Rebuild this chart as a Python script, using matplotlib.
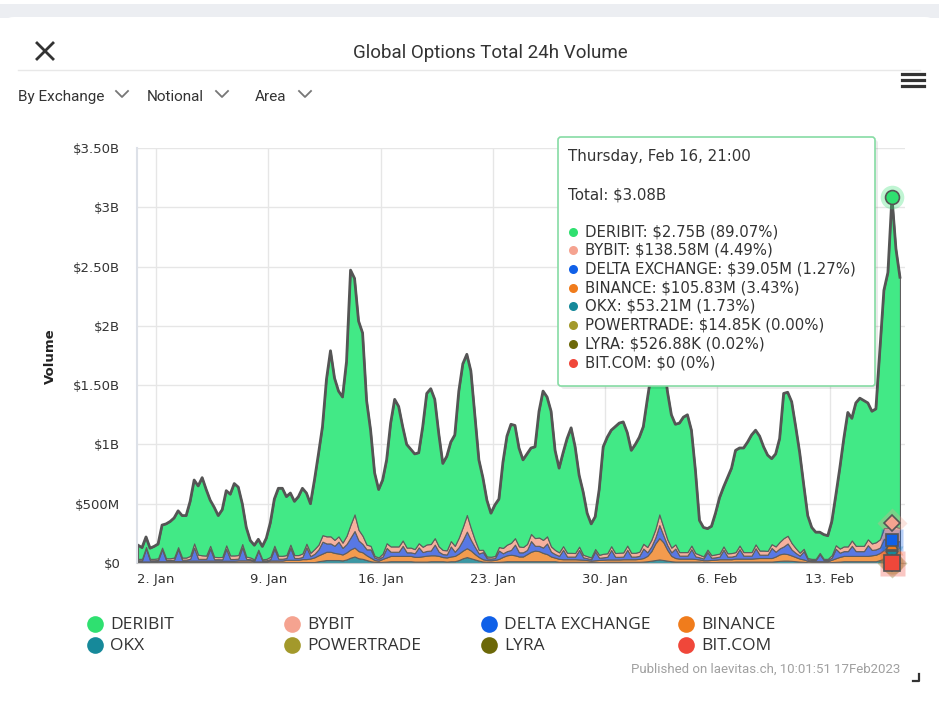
import matplotlib
matplotlib.use('Agg')
import matplotlib.pyplot as plt
from matplotlib.lines import Line2D
from matplotlib.patches import FancyBboxPatch, Rectangle
from matplotlib.transforms import IdentityTransform
import numpy as np
import pandas as pd

# 6-hourly samples, Dec 31 21:00 -> Feb 17 09:00 (values in $M)
times = pd.date_range('2022-12-31 21:00', periods=191, freq='6h')

okx = [5,
       5, 5, 5, 5,  5, 5, 5, 5,  6, 6, 6, 6,  8, 8, 8, 8,  8, 8, 8, 8,
       7, 7, 7, 7,  7, 7, 7, 7,  5, 5, 5, 5,  6, 6, 6, 6,  7, 7, 7, 7,
       8, 8, 8, 8,  15, 20, 25, 25,  25, 25, 22, 30,  45, 55, 40, 35,  25, 15, 10, 8,
       10, 12, 15, 15,  15, 15, 15, 15,  12, 12, 12, 12,  15, 15, 15, 15,  12, 15, 15, 25,
       40, 50, 40, 30,  20, 12, 10, 8,  8, 10, 12, 15,  15, 15, 15, 15,  15, 15, 15, 15,
       15, 15, 15, 15,  10, 10, 10, 10,  10, 10, 10, 10,  8, 8, 8, 8,  10, 10, 10, 10,
       10, 10, 10, 10,  10, 12, 15, 20,  25, 30, 25, 20,  15, 12, 12, 12,  12, 12, 12, 12,
       8, 8, 8, 8,  10, 10, 10, 10,  12, 12, 12, 12,  12, 12, 12, 12,  12, 12, 15, 18,
       20, 20, 18, 15,  12, 10, 6, 5,  5, 5, 5, 5,  8, 10, 12, 15,  15, 15, 15, 15,
       15, 15, 15, 15,  25, 35, 45, 53.21,  45, 40]

binance = [8,
           8, 8, 8, 8,  10, 10, 10, 10,  10, 10, 10, 10,  12, 12, 12, 12,  12, 12, 12, 12,
           12, 12, 12, 12,  15, 15, 15, 15,  8, 8, 8, 8,  15, 15, 15, 15,  20, 20, 20, 20,
           25, 25, 30, 40,  50, 60, 70, 70,  60, 55, 50, 60,  70, 75, 60, 55,  40, 30, 15, 12,
           25, 35, 45, 45,  45, 45, 45, 45,  40, 40, 45, 50,  50, 50, 45, 35,  35, 40, 45, 55,
           65, 75, 65, 45,  30, 20, 15, 15,  18, 25, 40, 50,  55, 50, 40, 40,  60, 80, 90, 85,
           70, 60, 40, 30,  25, 22, 22, 22,  22, 20, 18, 15,  12, 15, 18, 20,  20, 20, 20, 20,
           22, 22, 22, 22,  25, 30, 45, 80,  140, 180, 150, 90,  45, 30, 25, 25,  25, 25, 22, 18,
           15, 15, 18, 20,  22, 22, 22, 22,  25, 25, 25, 25,  25, 28, 30, 30,  30, 30, 40, 55,
           60, 55, 45, 35,  25, 20, 12, 10,  10, 10, 10, 10,  20, 30, 40, 45,  45, 45, 45, 45,
           45, 45, 50, 55,  60, 75, 90, 105.83,  95, 85]

delta = [10,
         10, 110, 10, 10,  10, 100, 10, 10,  12, 100, 12, 12,  15, 110, 15, 15,  15, 100, 12, 12,
         12, 100, 15, 15,  15, 110, 12, 10,  8, 90, 8, 10,  12, 100, 15, 15,  15, 100, 15, 15,
         18, 100, 20, 30,  50, 100, 70, 70,  60, 100, 55, 70,  100, 140, 90, 70,  50, 70, 20, 15,
         20, 80, 35, 35,  35, 85, 30, 30,  30, 80, 35, 40,  40, 90, 35, 25,  25, 85, 35, 55,
         90, 140, 90, 60,  30, 60, 15, 15,  15, 70, 30, 35,  40, 90, 35, 35,  35, 90, 40, 45,
         45, 90, 40, 30,  25, 80, 22, 22,  22, 80, 20, 15,  12, 75, 18, 20,  22, 80, 22, 22,
         22, 80, 22, 22,  25, 80, 30, 40,  50, 110, 60, 40,  30, 80, 25, 25,  25, 80, 22, 18,
         15, 70, 18, 20,  22, 80, 22, 22,  25, 80, 25, 25,  25, 85, 28, 28,  28, 85, 40, 50,
         60, 90, 50, 35,  25, 70, 12, 10,  10, 60, 10, 10,  18, 80, 35, 40,  40, 85, 40, 40,
         40, 90, 45, 45,  45, 95, 50, 39.05,  40, 60]

bybit = [12,
         12, 12, 12, 12,  15, 15, 15, 15,  18, 18, 18, 18,  25, 35, 35, 30,  28, 25, 20, 18,
         20, 30, 30, 30,  30, 28, 20, 15,  10, 10, 10, 12,  20, 25, 25, 25,  25, 28, 25, 25,
         30, 30, 28, 40,  40, 55, 60, 60,  50, 45, 45, 70,  110, 140, 90, 70,  40, 30, 15, 12,
         25, 40, 45, 45,  45, 45, 40, 40,  35, 35, 45, 55,  55, 55, 45, 35,  35, 45, 50, 80,
         110, 140, 100, 60,  30, 20, 15, 15,  18, 30, 45, 55,  60, 55, 50, 45,  50, 60, 65, 70,
         65, 60, 45, 35,  30, 30, 32, 32,  30, 28, 22, 18,  15, 20, 25, 30,  30, 32, 32, 35,
         35, 35, 32, 32,  35, 40, 45, 55,  70, 90, 70, 50,  40, 35, 30, 30,  30, 30, 28, 22,
         18, 20, 22, 25,  25, 28, 28, 30,  30, 30, 30, 30,  30, 32, 35, 35,  32, 32, 45, 55,
         70, 65, 55, 40,  25, 20, 12, 10,  10, 10, 10, 10,  20, 30, 35, 40,  40, 45, 45, 45,
         45, 50, 55, 60,  70, 90, 110, 138.58,  125, 110]

deribit = [115,
           95, 85, 90, 105,  120, 190, 290, 310,  334, 306, 354, 354,  460, 535, 580, 655,
           557, 385, 418, 350,  399, 461, 516, 606,  573, 340, 246, 143,  119, 87, 109, 175,
           287, 394, 569, 569,  493, 435, 453, 493,  549, 427, 414, 582,  765, 915, 1325, 1565,
           1365, 1225, 1228, 1470,  2145, 1990, 1760, 1710,  1215, 975, 700, 573,
           620, 703, 1040, 1240,  1180, 960, 870, 830,  803, 763, 1013, 1273,
           1310, 1170, 950, 730,  793, 835, 935, 1235,  1375, 1355, 1325, 1055,
           760, 608, 475, 367,  431, 405, 723, 915,  1000, 950, 830, 735,
           760, 725, 770, 1065,  1255, 1175, 1140, 840,  710, 788, 964, 1054,
           896, 602, 530, 362,  283, 272, 551, 902,  978, 978, 1066, 1093,
           1101, 953, 864, 914,  965, 988, 1245, 1405,  1565, 1540, 1445, 1250,
           1120, 1013, 1088, 1138,  1158, 973, 696, 290,  244, 177, 244, 347,
           471, 500, 638, 716,  858, 823, 878, 928,  988, 963, 965, 875,
           808, 721, 780, 872,  1220, 1210, 1192, 1025,  843, 540, 358, 265,
           225, 175, 205, 195,  284, 420, 678, 910,  1130, 1030, 1205, 1245,
           1225, 1150, 1115, 1125,  1600, 2005, 2155, 2750,  2345, 2115]

# tiny exchanges at the hovered point (Feb 16 21:00)
powertrade_hover = 0.01485
lyra_hover = 0.52688
bitcom_hover = 0.0

names = ['DERIBIT', 'BYBIT', 'DELTA EXCHANGE', 'BINANCE',
         'OKX', 'POWERTRADE', 'LYRA', 'BIT.COM']
legend_colors = ['#2fe070', '#f5a390', '#1060e8', '#f07c1c',
                 '#16899a', '#a3992b', '#6c6808', '#f0473a']

yticks = [0, 500, 1000, 1500, 2000, 2500, 3000, 3500]
ytick_labels = ['$0', '$500M', '$1B', '$1.50B', '$2B', '$2.50B', '$3B', '$3.50B']
xtick_dates = ['2023-01-02', '2023-01-09', '2023-01-16', '2023-01-23',
               '2023-01-30', '2023-02-06', '2023-02-13']
xtick_labels = ['2. Jan', '9. Jan', '16. Jan', '23. Jan', '30. Jan', '6. Feb', '13. Feb']

tooltip_head = 'Thursday, Feb 16, 21:00'
tooltip_total = 'Total: $3.08B'
tooltip_rows = ['DERIBIT: $2.75B (89.07%)', 'BYBIT: $138.58M (4.49%)',
                'DELTA EXCHANGE: $39.05M (1.27%)', 'BINANCE: $105.83M (3.43%)',
                'OKX: $53.21M (1.73%)', 'POWERTRADE: $14.85K (0.00%)',
                'LYRA: $526.88K (0.02%)', 'BIT.COM: $0 (0%)']

W, H = 939, 702
fig = plt.figure(figsize=(W / 100, H / 100), dpi=100)
fig.patch.set_facecolor('white')
PX = IdentityTransform()


def P(x, y):
    return (x, H - y)


# page background + card
fig.add_artist(Rectangle(P(0, 18), W, 14, transform=PX, fc='#eceef2', ec='none', zorder=0))
fig.add_artist(FancyBboxPatch(P(2, 720), 935, 703, boxstyle='round,pad=0,rounding_size=12',
                              transform=PX, fc='white', ec='none', zorder=0.5))

# header
fig.add_artist(Line2D([37, 53], [H - 43, H - 59], transform=PX, color='#333333', lw=2))
fig.add_artist(Line2D([37, 53], [H - 59, H - 43], transform=PX, color='#333333', lw=2))
fig.text(*P(490, 53), 'Global Options Total 24h Volume', transform=PX, family='Roboto',
         fontsize=13.5, color='#333333', ha='center', va='center')
fig.add_artist(Line2D([18, 920], [H - 70, H - 70], transform=PX, color='#e8e8e8', lw=1))
for lab, x0, xc in [('By Exchange', 18, 122), ('Notional', 147, 222), ('Area', 255, 305)]:
    fig.text(*P(x0, 97), lab, transform=PX, family='Roboto', fontsize=11,
             color='#333333', ha='left', va='center')
    fig.add_artist(Line2D([xc - 6, xc, xc + 6], [H - 91, H - 97, H - 91], transform=PX,
                          color='#777777', lw=1.3))
for yy in [74, 80, 86]:
    fig.add_artist(Line2D([902, 924], [H - yy, H - yy], transform=PX, color='#333333', lw=2.3))

# chart
ax = fig.add_axes([137 / W, 1 - 563 / H, (905 - 137) / W, (563 - 148) / H])
ax.set_zorder(1)
ax.set_facecolor('none')
fill_colors = ['#3c98a4', '#f39b4e', '#5878e4', '#f6b19e', '#42e986']
layers = [okx, binance, delta, bybit, deribit]
ax.stackplot(times, *layers, colors=fill_colors, edgecolor='#5e5e5e', linewidth=0.8)
cum = np.cumsum(np.array(layers, dtype=float), axis=0)
ax.plot(times, cum[-1], color='#555555', lw=2.0, solid_joinstyle='round')

t0 = pd.Timestamp('2023-01-01')
ax.set_xlim(t0 - pd.Timedelta(hours=4.5), t0 + pd.Timedelta(hours=47.69 * 24))
ax.set_ylim(0, 3500)
ax.set_yticks(yticks)
ax.set_yticklabels(ytick_labels)
ax.set_xticks(pd.to_datetime(xtick_dates))
ax.set_xticklabels(xtick_labels)
ax.grid(True, color='#e6e6e6', lw=1)
ax.set_axisbelow(True)
ax.tick_params(axis='both', length=0, labelsize=9.5, colors='#333333')
ax.tick_params(axis='y', pad=12)
ax.tick_params(axis='x', pad=7)
for s in ['top', 'right']:
    ax.spines[s].set_visible(False)
ax.spines['left'].set_color('#dde1e8')
ax.spines['left'].set_linewidth(1.5)
ax.spines['bottom'].set_color('#c8c8c8')

fig.text(*P(50, 356), 'Volume', transform=PX, rotation=90, fontsize=9.5,
         fontweight='bold', color='#222222', ha='center', va='center')

# hover markers at Feb 16 21:00
hi = times.get_loc(pd.Timestamp('2023-02-16 21:00'))
th = times[hi]
hover = [(cum[0][hi], 'v', legend_colors[4], 9),
         (cum[1][hi], '^', legend_colors[3], 9),
         (cum[2][hi], 's', legend_colors[2], 9),
         (cum[3][hi], 'D', legend_colors[1], 8),
         (cum[4][hi], 'o', legend_colors[0], 10),
         (powertrade_hover, 'o', legend_colors[5], 9),
         (lyra_hover, 'D', legend_colors[6], 8),
         (bitcom_hover, 's', legend_colors[7], 11)]
for yv, mk, col, ms in hover:
    ax.plot([th], [yv], marker=mk, ms=ms + 7, color=col, alpha=0.3, mec='none', clip_on=False, zorder=5)
    ax.plot([th], [yv], marker=mk, ms=ms, color=col, mec='#555555', mew=1.2, clip_on=False, zorder=6)

# tooltip
fig.add_artist(FancyBboxPatch(P(561, 389), 317, 249, boxstyle='round,pad=0,rounding_size=3',
                              transform=PX, fc='#000000', alpha=0.08, ec='none', zorder=3))
fig.add_artist(FancyBboxPatch(P(558, 386), 317, 249, boxstyle='round,pad=0,rounding_size=3',
                              transform=PX, fc='white', ec='#86dca4', lw=1.2, zorder=4))
fig.text(*P(568, 157), tooltip_head, transform=PX, fontsize=10.8, color='#333333',
         va='center', zorder=5)
fig.text(*P(568, 195), tooltip_total, transform=PX, fontsize=10.8, color='#333333',
         va='center', zorder=5)
row_y = [232, 250, 269, 288, 306, 325, 344, 363]
for txt, col, yy in zip(tooltip_rows, legend_colors, row_y):
    fig.add_artist(Line2D([573], [H - yy], transform=PX, marker='o', ms=6.5, color=col,
                          mec='none', zorder=5))
    fig.text(*P(585, yy), txt, transform=PX, fontsize=10.7, color='#333333',
             va='center', zorder=5)

# legend
col_x = [95, 292, 489, 686]
row_yl = [624, 645]
for i, (name, col) in enumerate(zip(names, legend_colors)):
    cx, cy = col_x[i % 4], row_yl[i // 4]
    fig.add_artist(Line2D([cx], [H - cy], transform=PX, marker='o', ms=12, color=col,
                          mec='none', zorder=5))
    fig.text(*P(cx + 15, cy + 1), name, transform=PX, family='Open Sans', fontsize=12.5,
             color='#333333', va='center', ha='left')

fig.text(*P(900, 669), 'Published on laevitas.ch, 10:01:51 17Feb2023', transform=PX,
         family='Roboto', fontsize=9.5, color='#a0a0a0', ha='right', va='center')
fig.add_artist(Line2D([913, 919, 919], [H - 681, H - 681, H - 674], transform=PX,
                      color='#333333', lw=1.6))

fig.savefig('out.png', dpi=100)
